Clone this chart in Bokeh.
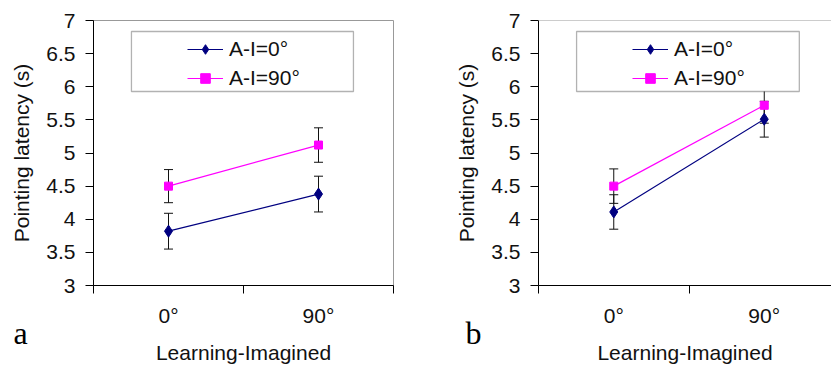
from bokeh.plotting import figure
from bokeh.models import (Range1d, FixedTicker, Whisker, TeeHead, ColumnDataSource,
                          Legend, LegendItem, BoxAnnotation, Span, Title)
from bokeh.layouts import row
from bokeh.embed import file_html
from bokeh.resources import INLINE

# ---- data ----
categories = ["0°", "90°"]
series_names = ["A-I=0°", "A-I=90°"]
a_ai0 = [3.82, 4.38]
a_ai0_err = [0.27, 0.27]
a_ai90 = [4.50, 5.12]
a_ai90_err = [0.25, 0.26]
b_ai0 = [4.11, 5.51]
b_ai0_err = [0.26, 0.27]
b_ai90 = [4.50, 5.72]
b_ai90_err = [0.26, 0.27]
y_ticks = [3, 3.5, 4, 4.5, 5, 5.5, 6, 6.5, 7]
y_tick_labels = ["3", "3.5", "4", "4.5", "5", "5.5", "6", "6.5", "7"]
panel_letters = ["a", "b"]
x_title = "Learning-Imagined"
y_title = "Pointing latency (s)"

FONT = "Liberation Sans"
NAVY = "#000080"
MAGENTA = "#FF00FF"
H = 365


def make_panel(s0, e0, s1, e1, letter, width, min_left, x_end, outline, letter_offset, frame_w):
    xs = [i + 0.5 for i in range(len(categories))]
    p = figure(width=width, height=H, output_backend="svg", toolbar_location=None,
               x_range=Range1d(0, x_end), y_range=Range1d(3, 7),
               min_border_left=min_left, min_border_right=width - min_left - frame_w,
               min_border_top=20, min_border_bottom=80)
    p.grid.visible = False
    p.background_fill_color = "white"
    p.border_fill_color = "white"
    if outline:
        p.outline_line_color = "#999999"
        p.outline_line_width = 1
    else:
        p.outline_line_color = None
        p.add_layout(Span(location=7, dimension="width", line_color="#999999", line_width=1))

    # y axis
    ya = p.yaxis[0]
    ya.ticker = FixedTicker(ticks=y_ticks)
    ya.major_label_overrides = {t: l for t, l in zip(y_ticks, y_tick_labels)}
    ya.minor_tick_line_color = None
    ya.major_tick_out = 8
    ya.major_tick_in = 0
    ya.major_label_standoff = 10
    ya.axis_label = y_title
    ya.axis_label_standoff = 10

    # x axis (title drawn as a separate Title below, so the panel letter can sit above it)
    xa = p.xaxis[0]
    xa.ticker = FixedTicker(ticks=xs, minor_ticks=[0, 1, 2])
    xa.major_label_overrides = {x: c for x, c in zip(xs, categories)}
    xa.major_tick_out = 0
    xa.major_tick_in = 0
    xa.minor_tick_out = 8
    xa.minor_tick_in = 0
    xa.minor_tick_line_color = "black"
    xa.minor_tick_line_width = 1
    xa.major_label_standoff = 10

    for ax in (xa, ya):
        ax.axis_line_color = "black"
        ax.axis_line_width = 1
        ax.major_tick_line_color = "black" if ax is ya else None
        ax.major_label_text_font = FONT
        ax.major_label_text_font_size = "21px"
        ax.major_label_text_color = "#111111"
        ax.axis_label_text_font = FONT
        ax.axis_label_text_font_size = "21px"
        ax.axis_label_text_font_style = "normal"
        ax.axis_label_text_color = "#111111"

    items = []
    for vals, errs, color, marker, msize, name in [
        (s0, e0, NAVY, "diamond", 12, series_names[0]),
        (s1, e1, MAGENTA, "square", 8, series_names[1]),
    ]:
        src = ColumnDataSource(dict(x=xs, y=vals,
                                    lo=[v - e for v, e in zip(vals, errs)],
                                    hi=[v + e for v, e in zip(vals, errs)]))
        w = Whisker(base="x", lower="lo", upper="hi", source=src,
                    line_color="#111111", line_width=1,
                    lower_head=TeeHead(size=9, line_color="#111111", line_width=1),
                    upper_head=TeeHead(size=9, line_color="#111111", line_width=1))
        p.add_layout(w)
        ln = p.line("x", "y", source=src, line_color=color, line_width=1.2)
        sc = p.scatter("x", "y", source=src, marker=marker, size=msize,
                       fill_color=color, line_color=color)
        items.append(LegendItem(label=name, renderers=[ln, sc]))

    # legend box
    box = BoxAnnotation(left=0.253, right=1.733, top=6.834, bottom=5.928,
                        fill_color="white", fill_alpha=1.0,
                        line_color="black", line_width=1.3)
    p.add_layout(box)
    leg = Legend(items=items, location=(94, 195), padding=0, margin=0,
                 glyph_width=36, glyph_height=24, label_height=24, label_standoff=6,
                 spacing=5, border_line_color=None, background_fill_alpha=0,
                 label_text_font=FONT, label_text_font_size="21px",
                 label_text_color="#111111")
    p.add_layout(leg, "center")

    # panel letter, then x-axis title, stacked below the axis
    t_letter = Title(text=letter, align="left", offset=letter_offset, standoff=-30,
                     vertical_align="top", text_font="Liberation Serif",
                     text_font_size="32px", text_font_style="normal", text_color="black")
    p.add_layout(t_letter, "below")
    t_x = Title(text=x_title, align="center", standoff=2, vertical_align="bottom",
                text_font=FONT, text_font_size="21px", text_font_style="normal",
                text_color="#111111")
    p.add_layout(t_x, "below")
    return p


pa = make_panel(a_ai0, a_ai0_err, a_ai90, a_ai90_err, panel_letters[0], 415, 93, 2.0, True,
                -80, 300)
pb = make_panel(b_ai0, b_ai0_err, b_ai90, b_ai90_err, panel_letters[1], 416, 123, 293 / 150.5, False,
                -73, 293)

layout = row(pa, pb)
open("out.html", "w").write(file_html(layout, INLINE))
